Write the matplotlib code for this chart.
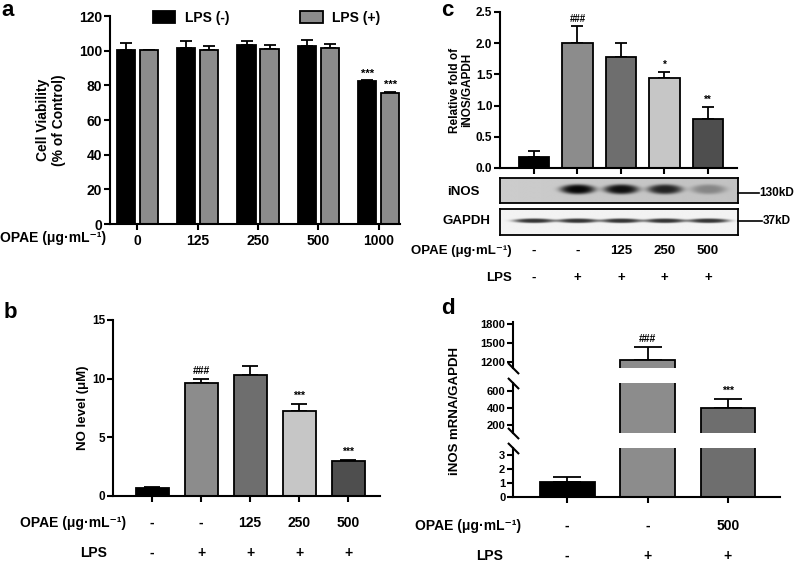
import numpy as np
import matplotlib
matplotlib.use('Agg')
import matplotlib.pyplot as plt
from matplotlib import transforms

plt.rcParams['font.family'] = ['Liberation Sans', 'DejaVu Sans']
plt.rcParams['font.weight'] = 'bold'
plt.rcParams['axes.linewidth'] = 1.5

W, H = 797, 563
OPAE_TXT = 'OPAE (μg·mL⁻¹)'

# panel a - cell viability
doses_a = ['0', '125', '250', '500', '1000']
viab_neg = [100.3, 101.5, 103.3, 102.8, 82.3]
viab_neg_err = [4.3, 4.0, 2.5, 3.5, 0.5]
viab_pos = [100.3, 100.5, 100.8, 101.7, 75.8]
viab_pos_err = [0.3, 2.0, 2.3, 2.0, 0.4]
sig_a_neg = ['', '', '', '', '***']
sig_a_pos = ['', '', '', '', '***']

# panel b - NO level
opae_b = ['-', '-', '125', '250', '500']
lps_b = ['-', '+', '+', '+', '+']
no_level = [0.65, 9.6, 10.35, 7.25, 3.0]
no_err = [0.1, 0.35, 0.75, 0.6, 0.08]
sig_b = ['', '###', '', '***', '***']

# panel c - iNOS protein
inos_fold = [0.18, 2.0, 1.78, 1.44, 0.78]
inos_fold_err = [0.1, 0.27, 0.22, 0.1, 0.2]
sig_c = ['', '###', '', '*', '**']
inos_band = [0.0, 0.95, 0.9, 0.8, 0.3]
gapdh_band = [0.85, 0.85, 0.85, 0.85, 0.85]

# panel d - iNOS mRNA
opae_d = ['-', '-', '500']
lps_d = ['-', '+', '+']
mrna = [1.05, 1220, 405]
mrna_err = [0.4, 215, 100]
sig_d = ['', '###', '***']

grey_cols = ['#000000', '#8c8c8c', '#6e6e6e', '#c6c6c6', '#4e4e4e']

fig = plt.figure(figsize=(W / 100, H / 100), dpi=100)


def px_axes(x0, y0, x1, y1):
    return fig.add_axes([x0 / W, 1 - y1 / H, (x1 - x0) / W, (y1 - y0) / H])


def style(ax, fs):
    for s in ['top', 'right']:
        ax.spines[s].set_visible(False)
    ax.tick_params(direction='out', length=4, width=1.5, labelsize=fs, pad=1.5)


def draw_bars(ax, x, vals, errs, colors, width, capsize, lw=1.3):
    b = ax.bar(x, vals, width, color=colors, edgecolor='black', linewidth=lw, zorder=2)
    ax.errorbar(x, vals, yerr=[np.zeros(len(vals)), errs], fmt='none', ecolor='black',
                elinewidth=lw, capsize=capsize, capthick=lw, zorder=1)
    return b


def row_labels(ax, labels, y, title, title_right, fs):
    tr = transforms.blended_transform_factory(ax.transData, fig.transFigure)
    for i, lab in enumerate(labels):
        ax.text(i, 1 - y / H, lab, transform=tr, ha='center', va='center', fontsize=fs)
    fig.text(title_right / W, 1 - y / H, title, ha='right', va='center', fontsize=fs)


def sig_marks(ax, x, vals, errs, marks, off, fs=7.5):
    for xi, v, e, m in zip(x, vals, errs, marks):
        if m:
            ax.text(xi, v + e + off, m, ha='center', va='bottom', fontsize=fs)


# ---------- a ----------
ax_a = px_axes(110, 16, 400, 224)
xa = np.arange(len(doses_a))
b1 = draw_bars(ax_a, xa - 0.19, viab_neg, viab_neg_err, 'black', 0.3, 4)
b2 = draw_bars(ax_a, xa + 0.19, viab_pos, viab_pos_err, grey_cols[1], 0.3, 4)
sig_marks(ax_a, xa - 0.19, viab_neg, viab_neg_err, sig_a_neg, 1.0, 8)
sig_marks(ax_a, xa + 0.19, viab_pos, viab_pos_err, sig_a_pos, 1.0, 8)
ax_a.set_xlim(-0.45, 4.35)
ax_a.set_ylim(0, 120)
ax_a.set_yticks(range(0, 121, 20))
ax_a.set_xticks(xa)
ax_a.set_xticklabels(doses_a)
style(ax_a, 10)
ax_a.tick_params(axis='x', pad=3)
fig.text(106 / W, 1 - 238 / H, OPAE_TXT, ha='right', va='center', fontsize=10)
fig.text(51 / W, 1 - 120 / H, 'Cell Viability\n(% of Control)', rotation=90,
         ha='center', va='center', fontsize=10, linespacing=1.1)
ax_a.legend([b1, b2], ['LPS (-)', 'LPS (+)'], ncol=2, frameon=False, fontsize=10,
            loc='upper left', bbox_to_anchor=(153 / W, 1 - 11 / H),
            bbox_transform=fig.transFigure, borderpad=0, borderaxespad=0,
            handlelength=1.6, handleheight=0.95, handletextpad=0.7, columnspacing=5.1)

# ---------- b ----------
ax_b = px_axes(113, 320, 380, 496)
xb = np.arange(len(no_level))
draw_bars(ax_b, xb, no_level, no_err, grey_cols, 0.67, 6)
sig_marks(ax_b, xb, no_level, no_err, sig_b, 0.25)
ax_b.set_xlim(-0.8, 4.65)
ax_b.set_ylim(0, 15)
ax_b.set_yticks([0, 5, 10, 15])
ax_b.set_xticks(xb)
ax_b.set_xticklabels([])
style(ax_b, 8.5)
row_labels(ax_b, opae_b, 523, OPAE_TXT, 126, 10)
row_labels(ax_b, lps_b, 553, 'LPS', 107, 10)
fig.text(83 / W, 1 - 408 / H, 'NO level (μM)', rotation=90, ha='center', va='center', fontsize=9.5)

# ---------- c ----------
ax_c = px_axes(500, 12, 737, 168)
xc = np.arange(len(inos_fold))
draw_bars(ax_c, xc, inos_fold, inos_fold_err, grey_cols, 0.7, 4.5)
sig_marks(ax_c, xc, inos_fold, inos_fold_err, sig_c, 0.04, 7)
ax_c.set_xlim(-0.78, 4.67)
ax_c.set_ylim(0, 2.5)
ax_c.set_yticks(np.arange(0, 2.51, 0.5))
ax_c.set_yticklabels(['%.1f' % v for v in np.arange(0, 2.51, 0.5)])
ax_c.set_xticks(xc)
ax_c.set_xticklabels([])
style(ax_c, 8.5)
fig.text(461 / W, 1 - 90 / H, 'Relative fold of\niNOS/GAPDH', rotation=90,
         ha='center', va='center', fontsize=8.5, linespacing=1.1)

# western blot strips
xs = np.linspace(-0.78, 4.67, 480)
ys = np.linspace(0, 1, 60)
XX, YY = np.meshgrid(xs, ys)


def blot(ax, intens, bg, hw, yc, sy, depth):
    dark = np.zeros_like(XX)
    for i, v in enumerate(intens):
        r = np.sqrt(((XX - i) / hw) ** 2 + ((YY - yc) / sy) ** 2)
        dark += v * np.exp(-r ** 4)
    img = bg - depth * dark
    ax.imshow(img, cmap='gray', vmin=0, vmax=1, extent=[xs[0], xs[-1], 0, 1],
              aspect='auto', origin='lower', interpolation='bilinear')
    ax.set_xlim(xs[0], xs[-1])
    ax.set_ylim(0, 1)
    ax.set_xticks([])
    ax.set_yticks([])
    for s in ax.spines.values():
        s.set_linewidth(1.3)


ax_i = px_axes(500, 178, 738, 203)
blot(ax_i, inos_band, 0.8 - 0.04 * (XX + 0.78) / 5.45, 0.4, 0.55, 0.2, 0.8)
ax_g = px_axes(500, 209, 738, 235)
blot(ax_g, gapdh_band, 0.95, 0.48, 0.55, 0.09, 0.88)
fig.text(480 / W, 1 - 192 / H, 'iNOS', ha='right', va='center', fontsize=9.5)
fig.text(490 / W, 1 - 221 / H, 'GAPDH', ha='right', va='center', fontsize=9.5)
fig.add_artist(plt.Line2D([738 / W, 759 / W], [1 - 193 / H] * 2, color='black', lw=1.2))
fig.add_artist(plt.Line2D([738 / W, 762 / W], [1 - 221 / H] * 2, color='black', lw=1.2))
fig.text(759 / W, 1 - 193 / H, '130kD', ha='left', va='center', fontsize=8.5)
fig.text(763 / W, 1 - 221 / H, '37kD', ha='left', va='center', fontsize=8.5)
row_labels(ax_c, opae_b, 251, OPAE_TXT, 512, 9.5)
row_labels(ax_c, lps_b, 278, 'LPS', 512, 9.5)

# ---------- d (broken axis) ----------
segs = [((322, 368), (1100, 1830), [1200, 1500, 1800]),
        ((383, 433), (100, 700), [200, 400, 600]),
        ((448, 497), (0, 3.5), [0, 1, 2, 3])]
xd = np.arange(len(mrna))
d_axes = []
for (y0, y1), lim, ticks in segs:
    ax = px_axes(513, y0, 780, y1)
    draw_bars(ax, xd, mrna, mrna_err, grey_cols[:3], 0.68, 10)
    ax.set_xlim(-0.675, 2.65)
    ax.set_ylim(*lim)
    ax.set_yticks(ticks)
    style(ax, 8)
    d_axes.append(ax)

for ax in d_axes[:2]:
    ax.spines['bottom'].set_visible(False)
    ax.set_xticks([])
d_axes[2].set_xticks(xd)
d_axes[2].set_xticklabels([])

for i, (v, e, m) in enumerate(zip(mrna, mrna_err, sig_d)):
    if not m:
        continue
    for ax, (_, lim, _) in zip(d_axes, segs):
        if lim[0] <= v + e <= lim[1]:
            ax.text(xd[i], v + e + (lim[1] - lim[0]) * 0.06, m,
                    ha='center', va='bottom', fontsize=7.5)

kw = dict(marker=[(-1, 1), (1, -1)], markersize=8, linestyle='none',
          color='black', mec='black', mew=1.5, clip_on=False)
d_axes[0].plot([0], [0], transform=d_axes[0].transAxes, **kw)
d_axes[1].plot([0, 0], [0, 1], transform=d_axes[1].transAxes, **kw)
d_axes[2].plot([0], [1], transform=d_axes[2].transAxes, **kw)

fig.text(455 / W, 1 - 411 / H, 'iNOS mRNA/GAPDH', rotation=90, ha='center', va='center', fontsize=9.5)
row_labels(d_axes[2], opae_d, 526, OPAE_TXT, 521, 10)
row_labels(d_axes[2], lps_d, 556, 'LPS', 503, 10)

# panel letters
for lx, ly, letter in [(8, 11, 'a'), (10, 312, 'b'), (447, 11, 'c'), (448, 308, 'd')]:
    fig.text(lx / W, 1 - ly / H, letter, ha='center', va='center', fontsize=16)

fig.savefig('out.png', dpi=100)
